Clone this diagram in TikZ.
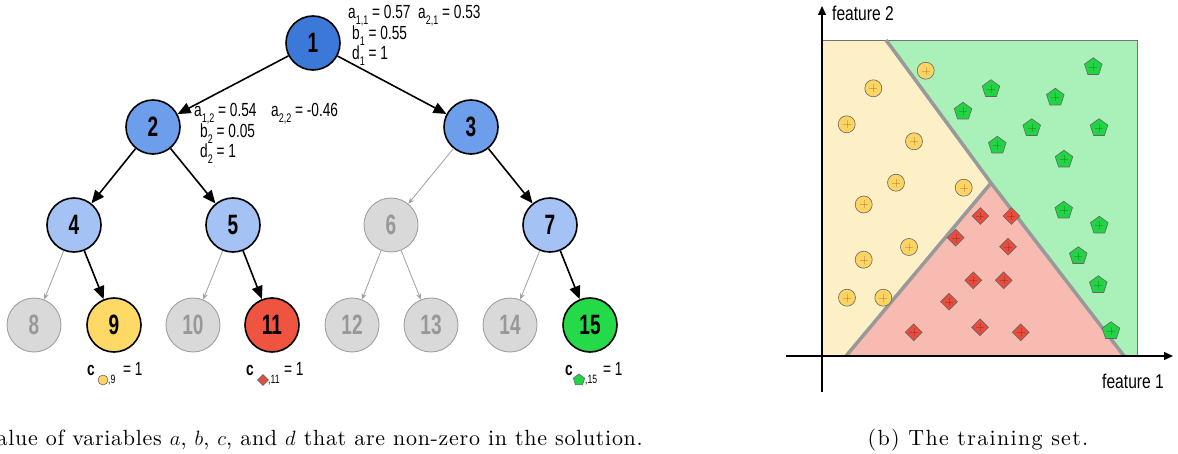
\documentclass[tikz,border=0pt]{standalone}
\usepackage{fontspec}
\usetikzlibrary{arrows.meta,shapes.geometric}
\newfontfamily\cond[FakeStretch=0.68]{Liberation Sans}
\newfontfamily\condl[FakeStretch=0.72]{Liberation Sans}
\newfontfamily\condf[FakeStretch=0.78]{Liberation Sans}
\newfontfamily\capfont[LetterSpace=6]{lmroman10-regular.otf}
\newfontfamily\capfontb[LetterSpace=3.2]{lmroman10-regular.otf}
\definecolor{cA}{HTML}{3C78D8}
\definecolor{cB}{HTML}{6D9EEB}
\definecolor{cC}{HTML}{A4C2F4}
\definecolor{cGr}{HTML}{D9D9D9}
\definecolor{cGrD}{HTML}{A0A0A0}
\definecolor{cY}{HTML}{FFD966}
\definecolor{cR}{HTML}{EF5440}
\definecolor{cG}{HTML}{25DA48}
\definecolor{rY}{HTML}{FDEFC6}
\definecolor{rG}{HTML}{A9F0B9}
\definecolor{rR}{HTML}{F7BBB1}
\definecolor{mY}{HTML}{FDD462}
\definecolor{mG}{HTML}{22D444}
\definecolor{mR}{HTML}{E84C3D}
\newcommand\sbs[1]{\raisebox{-5.5pt}{\fontsize{12.5}{12.5}\selectfont #1}}
\begin{document}
\begin{tikzpicture}[x=1pt,y=-1pt,
  tn/.style={circle,draw=black,line width=1.6pt,minimum size=54pt,inner sep=0pt,
    font=\cond\bfseries\fontsize{28}{28}\selectfont},
  gn/.style={tn,draw=cGrD,line width=0.9pt,fill=cGr,text=cGrD!95!black},
  be/.style={line width=1.6pt,-{Triangle[length=13pt,width=11pt]}},
  ge/.style={draw=cGrD,line width=0.8pt,-{Stealth[length=6pt,width=5pt]}},
  lab/.style={font=\condl\fontsize{19}{19}\selectfont,inner sep=0pt,anchor=base west},
  slab/.style={font=\condl\fontsize{12}{12}\selectfont,inner sep=0pt,anchor=base west},
  flab/.style={font=\condf\fontsize{20}{20}\selectfont,inner sep=0pt},
  captxt/.style={font=\capfont\fontsize{22}{22}\selectfont,inner sep=0pt},
  captxtb/.style={font=\capfontb\fontsize{22}{22}\selectfont,inner sep=0pt},
  ym/.style={fill=mY,draw=black!60,line width=0.6pt},
  pent/.style={regular polygon,regular polygon sides=5,minimum size=18.5pt,inner sep=0pt,fill=mG,draw=black!60,line width=0.6pt},
  dia/.style={diamond,minimum width=17pt,minimum height=17pt,inner sep=0pt,fill=mR,draw=black!60,line width=0.6pt},
  pl/.style={line width=0.35pt,draw=black,draw opacity=0.18}
]
\useasboundingbox (0,0) rectangle (1178,454);

% ---------- tree ----------
\node[tn,fill=cA] (n1) at (313,43) {1};
\node[tn,fill=cB] (n2) at (153,127) {2};
\node[tn,fill=cB] (n3) at (471,127) {3};
\node[tn,fill=cC] (n4) at (74,225) {4};
\node[tn,fill=cC] (n5) at (233,225) {5};
\node[gn] (n6) at (391,225) {6};
\node[tn,fill=cC] (n7) at (550,225) {7};
\node[gn] (n8) at (34,325) {8};
\node[tn,fill=cY] (n9) at (114,325) {9};
\node[gn] (n10) at (193,325) {10};
\node[tn,fill=cR] (n11) at (272,325) {11};
\node[gn] (n12) at (352,325) {12};
\node[gn] (n13) at (431,325) {13};
\node[gn] (n14) at (510,325) {14};
\node[tn,fill=cG] (n15) at (590,325) {15};

\draw[be] (n1) -- (n2);
\draw[be] (n1) -- (n3);
\draw[be] (n2) -- (n4);
\draw[be] (n2) -- (n5);
\draw[be] (n3) -- (n7);
\draw[be] (n4) -- (n9);
\draw[be] (n5) -- (n11);
\draw[be] (n7) -- (n15);
\draw[ge] (n3) -- (n6);
\draw[ge] (n4) -- (n8);
\draw[ge] (n5) -- (n10);
\draw[ge] (n6) -- (n12);
\draw[ge] (n6) -- (n13);
\draw[ge] (n7) -- (n14);

% labels
\node[lab] (l1a) at (348,19) {a\sbs{1,1} = 0.57};
\node[lab] (l1b) at (418,19) {a\sbs{2,1} = 0.53};
\node[lab] (l1c) at (352,40) {b\sbs{1} = 0.55};
\node[lab] (l1d) at (352,60) {d\sbs{1} = 1};
\node[lab] (l2a) at (194,117) {a\sbs{1,2} = 0.54};
\node[lab] (l2b) at (271,117) {a\sbs{2,2} = -0.46};
\node[lab] (l2c) at (200,138) {b\sbs{2} = 0.05};
\node[lab] (l2d) at (200,158) {d\sbs{2} = 1};

\node[lab] (c9) at (87,375) {\textbf{c}};
\path[ym] (103,380) circle[radius=5];
\node[slab] (c9s) at (108,383) {,9};
\node[lab] (c9e) at (123,375) {= 1};
\node[lab] (c11) at (246,375) {\textbf{c}};
\node[dia,minimum width=11pt,minimum height=11pt] (c11s) at (263,380) {};
\node[slab] (c11t) at (268,383) {,11};
\node[lab] (c11e) at (284,375) {= 1};
\node[lab] (c15) at (565,375) {\textbf{c}};
\node[pent,minimum size=12pt] (c15s) at (579,380) {};
\node[slab] (c15t) at (585,383) {,15};
\node[lab] (c15e) at (603,375) {= 1};

% ---------- training set ----------
\coordinate (TL) at (822,40);
\coordinate (TR) at (1137,40);
\coordinate (BR) at (1137,356);
\coordinate (BL) at (822,356);
\coordinate (P1) at (886,40);
\coordinate (J) at (991,183);
\coordinate (Q1) at (846,356);
\coordinate (Q2) at (1124,356);
\fill[rG] (TL) rectangle (BR);
\fill[rY] (TL) -- (P1) -- (J) -- (Q1) -- (BL) -- cycle;
\fill[rR] (Q1) -- (J) -- (Q2) -- cycle;
\draw[black!55,line width=0.6pt] (TL) rectangle (BR);
\draw[black!40,line width=3.5pt] (P1) -- (J) -- (Q2);
\draw[black!40,line width=3.5pt] (J) -- (Q1);

% markers
\foreach \p in {(925.7,70.7),(873.3,88.3),(846.7,124.3),(914,141.3),(896,182.7),(963.7,187.7),(863.7,204.5),(909,247),(863.7,259.7),(847,297.7),(883.3,297.7)}{
  \path[ym] \p circle[radius=8.5];
  \draw[pl] \p ++(-4,0) -- ++(8,0);
  \draw[pl] \p ++(0,-4) -- ++(0,8);
}
\foreach \p [count=\i] in {(1093.3,67),(991,89),(1055.3,97.5),(963,111.5),(1031.7,128),(1099,128),(997.3,145.5),(1064,159.5),(1063.7,210.5),(1099.3,225.5),(1078.3,256),(1098.3,285),(1111,331)}{
  \node[pent] (g\i) at \p {};
  \draw[pl] (g\i.center) ++(-4,0) -- ++(8,0);
  \draw[pl] (g\i.center) ++(0,-4) -- ++(0,8);
}
\foreach \p [count=\i] in {(980.3,216),(1011.3,216),(955.7,237.7),(1008,246.7),(973.3,280.3),(1003.7,280.3),(949,301.7),(913.7,332.3),(980,327.3),(1020.7,332.3)}{
  \node[dia] (r\i) at \p {};
  \draw[pl] (r\i.center) ++(-4,0) -- ++(8,0);
  \draw[pl] (r\i.center) ++(0,-4) -- ++(0,8);
}

% axes
\coordinate (yb) at (822,392);
\coordinate (yt) at (822,6);
\coordinate (xl) at (786,356);
\coordinate (xr) at (1173,356);
\draw[line width=1.3pt,-{Triangle[length=9pt,width=8pt]}] (yb) -- (yt);
\draw[line width=1.3pt,-{Triangle[length=9pt,width=8pt]}] (xl) -- (xr);
\node[flab,anchor=base west] (f2) at (832,21) {feature 2};
\node[flab,anchor=base east] (f1) at (1164,388) {feature 1};

% captions
\node[captxtb,anchor=base east] (capa) at (643,445) {alue of variables $a$, $b$, $c$, and $d$ that are non-zero in the solution.};
\node[captxt,anchor=base] (capb) at (978,445) {(b) The training set.};
\end{tikzpicture}
\end{document}
